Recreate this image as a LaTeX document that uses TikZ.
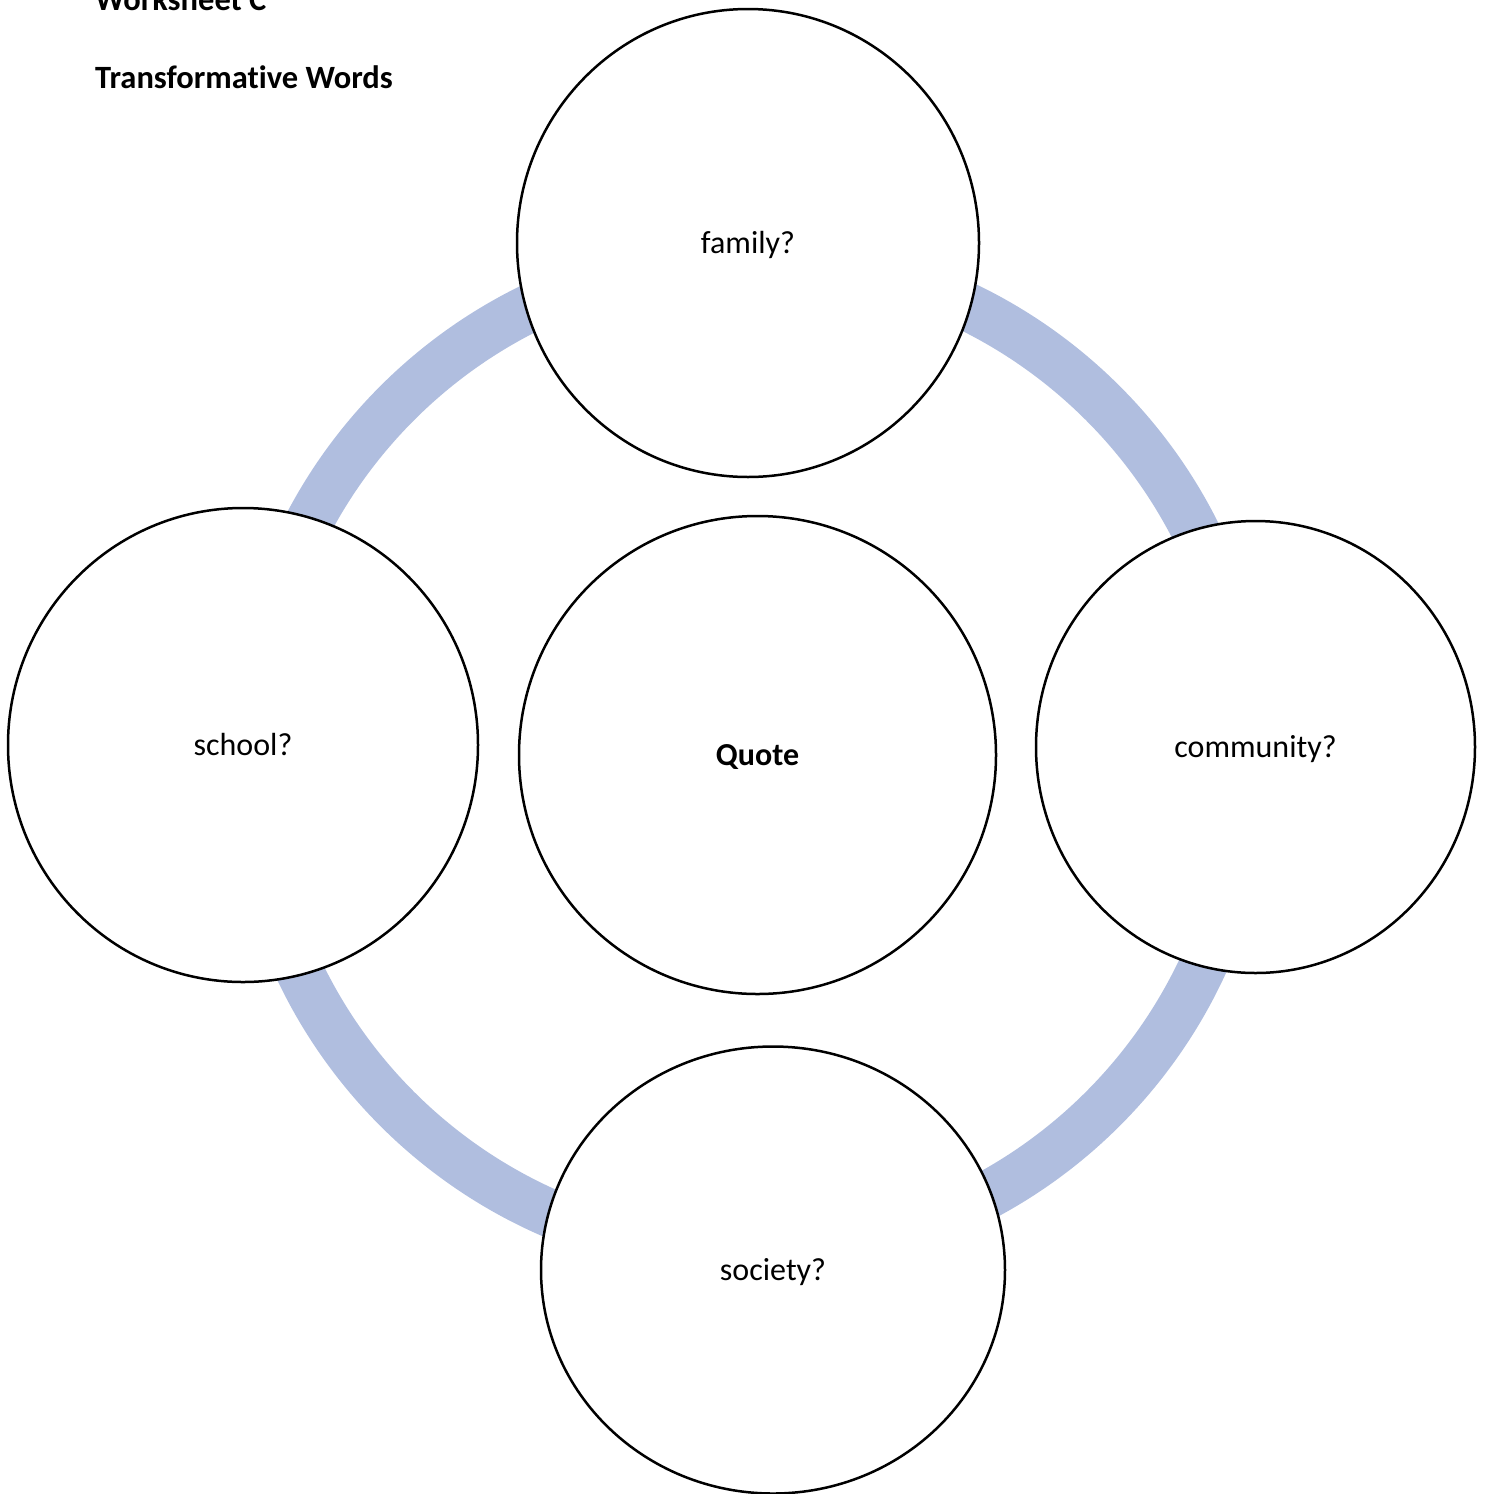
\documentclass[tikz,border=0pt]{standalone}
\usepackage{fontspec}
\setmainfont[Ligatures=NoCommon]{Carlito}
\usetikzlibrary{shapes.geometric}
\definecolor{ringblue}{RGB}{176,190,223}
\tikzset{
  bubble/.style={ellipse, draw=black, line width=2.5pt, fill=white, inner sep=0pt,
    text height=20pt, text depth=0pt, font=\fontsize{32}{38}\selectfont},
  titletext/.style={anchor=base west, inner sep=0pt, font=\fontsize{32.5}{38}\selectfont\bfseries}
}
\begin{document}
\begin{tikzpicture}[x=1pt,y=-1pt]
\useasboundingbox (0,0) rectangle (1486,1494);
% ring
\draw[ringblue, line width=48pt] (750,756) ellipse [x radius=499pt, y radius=499pt];
% titles
\node[titletext] (ws) at (95,10) {Worksheet C};
\node[titletext] (tw) at (95,88) {Transformative Words};
% circles
\node[bubble, minimum width=462pt, minimum height=468pt] (family) at (748,243) {family?};
\node[bubble, minimum width=470pt, minimum height=474pt] (school) at (243,745) {school?};
\node[bubble, minimum width=477pt, minimum height=478pt, font=\fontsize{32}{38}\selectfont\bfseries] (quote) at (757.5,755) {Quote};
\node[bubble, minimum width=439pt, minimum height=452pt] (community) at (1255.5,747) {community?};
\node[bubble, minimum width=464pt, minimum height=447pt] (society) at (773,1270) {society?};
\end{tikzpicture}
\end{document}
